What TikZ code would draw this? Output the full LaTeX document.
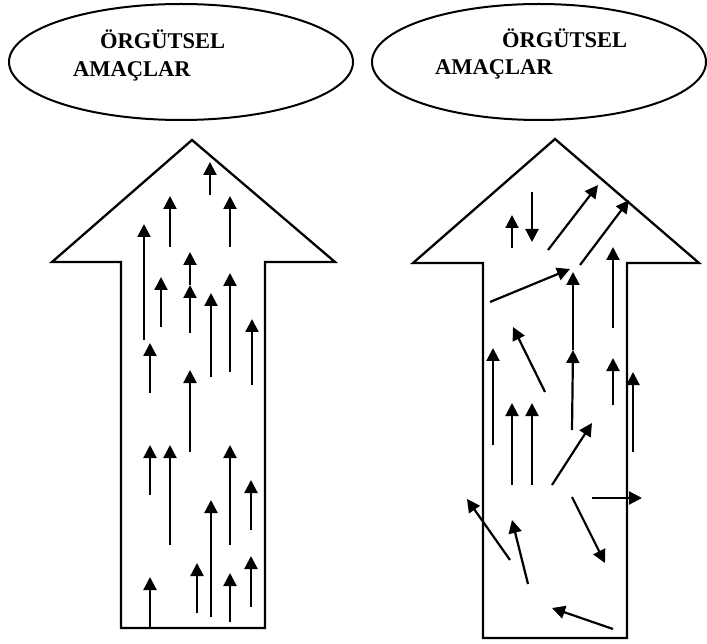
\documentclass[tikz,border=0pt]{standalone}
\usepackage{fontspec}
\setmainfont{Liberation Serif}
\usetikzlibrary{arrows.meta,shapes.geometric}
\tikzset{
  goal/.style={ellipse, draw, line width=2pt, minimum width=344pt, minimum height=116pt, inner sep=0pt},
  lbl/.style={font=\fontsize{22.5}{25}\selectfont\bfseries, anchor=base west, inner sep=0pt},
  body/.style={draw, line width=2.3pt, line join=miter},
  vec/.style={line width=2.2pt, -{Triangle[width=13pt,length=13pt]}},
}
\begin{document}
\begin{tikzpicture}[x=1pt, y=-1pt]
    \useasboundingbox (0,0) rectangle (707,644);
    % goals
    \node[goal] (goalL) at (181,62) {};
    \node[goal, minimum width=334pt] (goalR) at (539,62) {};
    \node[lbl] (orgL) at (100,49) {ÖRGÜTSEL};
    \node[lbl] (amaL) at (73,77) {AMAÇLAR};
    \node[lbl] (orgR) at (502,48) {ÖRGÜTSEL};
    \node[lbl] (amaR) at (435,75) {AMAÇLAR};
    % big arrows
    \draw[body] (121,628) -- (121,262) -- (52,262) -- (192,140) -- (335,262)
        -- (265,262) -- (265,628) -- cycle;
    \draw[body] (483,638) -- (483,263) -- (413,263) -- (555,139) -- (699,263)
        -- (627,263) -- (627,638) -- cycle;
    % aligned vectors
    \foreach \x/\a/\b in {210/195/162, 170/247/196, 230/247/196, 144/340/224,
        190/285/252, 190/333/285, 161/327/277, 211/377/293, 230/372/273,
        252/385/319, 150/393/343, 190/452/370, 150/495/445, 170/545/445,
        230/545/445, 251/530/480, 211/617/500, 197/613/563, 230/622/573,
        251/607/556, 150/627/577}{
        \draw[vec] (\x,\a) -- (\x,\b);
    }
    % scattered vectors
    \foreach \xa/\ya/\xb/\yb in {512/248/512/215, 532/192/532/242,
        548/250/598/185, 580/265/629/200, 490/302/570/269, 573/350/573/272,
        572/430/573/350, 613/328/613/247, 545/392/513/327, 493/445/493/348,
        613/405/613/358, 633/452/633/372, 512/485/512/403, 532/485/532/403,
        552/485/592/423, 592/498/642/498, 510/560/467/499, 528/584/512/520,
        572/497/605/563, 613/629/552/608}{
        \draw[vec] (\xa,\ya) -- (\xb,\yb);
    }
\end{tikzpicture}
\end{document}
